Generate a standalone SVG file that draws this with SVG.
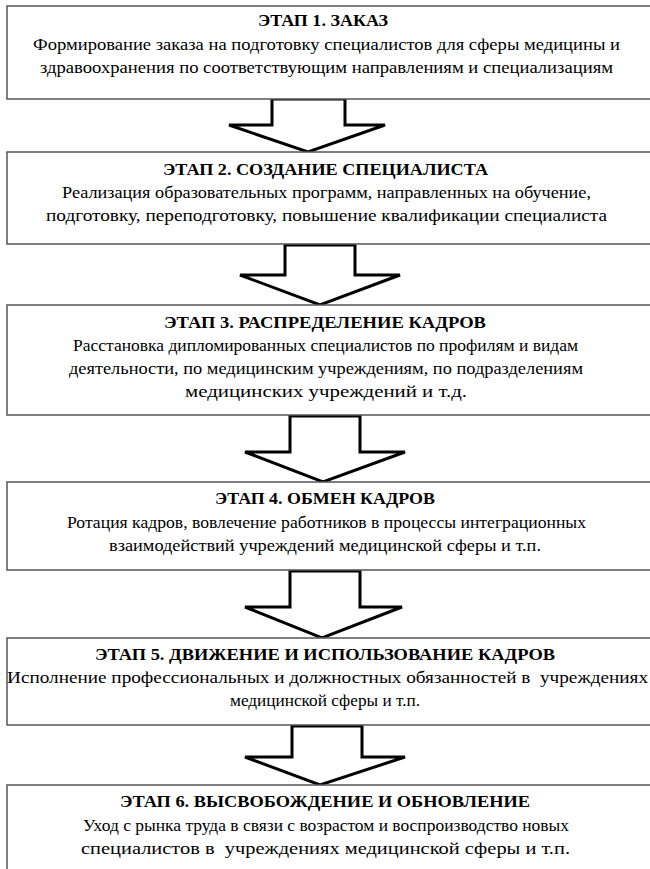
<svg xmlns="http://www.w3.org/2000/svg" width="650" height="869" viewBox="0 0 650 869">
<style>
.box{fill:#fff;stroke:#555;stroke-width:1.5}
.arr{fill:#fff;stroke:#000;stroke-width:3;stroke-linejoin:miter}
.t{font-size:17px;font-weight:bold}
.b{font-size:17px}
.pre{white-space:pre}
</style>
<rect width="650" height="869" fill="#fff"/>
<g id="connectors">
<path class="arr" d="M272,99 H345 V125 H385 L308,152 L229,125 H272 Z"/>
<path class="arr" d="M285,245 H355 V275 H400 L320,305 L240,275 H285 Z"/>
<path class="arr" d="M290,416 H360 V452 H405 L323,482 L245,452 H290 Z"/>
<path class="arr" d="M290,571 H360 V607 H402 L322,638 L245,607 H290 Z"/>
<path class="arr" d="M292,726 H362 V757 H405 L320,785 L245,757 H292 Z"/>
</g>
<g font-family="'Liberation Serif', 'Times New Roman', 'DejaVu Serif', serif" text-anchor="middle" fill="#000">
<g id="stage1">
<rect class="box" x="7" y="6" width="660" height="93"/>
<text class="t" x="323" y="26" textLength="130" lengthAdjust="spacingAndGlyphs">ЭТАП 1. ЗАКАЗ</text>
<text class="b" x="326.5" y="50" textLength="587" lengthAdjust="spacingAndGlyphs">Формирование заказа на подготовку специалистов для сферы медицины и</text>
<text class="b" x="326.5" y="73" textLength="573" lengthAdjust="spacingAndGlyphs">здравоохранения по соответствующим направлениям и специализациям</text>
</g>
<g id="stage2">
<rect class="box" x="7" y="152" width="660" height="92"/>
<text class="t" x="325.5" y="175" textLength="325" lengthAdjust="spacingAndGlyphs">ЭТАП 2. СОЗДАНИЕ СПЕЦИАЛИСТА</text>
<text class="b" x="326.5" y="198" textLength="529" lengthAdjust="spacingAndGlyphs">Реализация образовательных программ, направленных на обучение,</text>
<text class="b" x="326.5" y="221" textLength="561" lengthAdjust="spacingAndGlyphs">подготовку, переподготовку, повышение квалификации специалиста</text>
</g>
<g id="stage3">
<rect class="box" x="7" y="305" width="660" height="110"/>
<text class="t" x="325" y="328" textLength="322" lengthAdjust="spacingAndGlyphs">ЭТАП 3. РАСПРЕДЕЛЕНИЕ КАДРОВ</text>
<text class="b" x="325.5" y="351" textLength="505" lengthAdjust="spacingAndGlyphs">Расстановка дипломированных специалистов по профилям и видам</text>
<text class="b" x="326" y="374" textLength="514" lengthAdjust="spacingAndGlyphs">деятельности, по медицинским учреждениям, по подразделениям</text>
<text class="b" x="326" y="397" textLength="282" lengthAdjust="spacingAndGlyphs">медицинских учреждений и т.д.</text>
</g>
<g id="stage4">
<rect class="box" x="7" y="482" width="660" height="88"/>
<text class="t" x="325" y="504" textLength="220" lengthAdjust="spacingAndGlyphs">ЭТАП 4. ОБМЕН КАДРОВ</text>
<text class="b" x="326.5" y="528" textLength="519" lengthAdjust="spacingAndGlyphs">Ротация кадров, вовлечение работников в процессы интеграционных</text>
<text class="b" x="325" y="551" textLength="432" lengthAdjust="spacingAndGlyphs">взаимодействий учреждений медицинской сферы и т.п.</text>
</g>
<g id="stage5">
<rect class="box" x="7" y="638" width="660" height="87"/>
<text class="t" x="325" y="660" textLength="460" lengthAdjust="spacingAndGlyphs">ЭТАП 5. ДВИЖЕНИЕ И ИСПОЛЬЗОВАНИЕ КАДРОВ</text>
<text class="b pre" x="327.5" y="683" textLength="641" lengthAdjust="spacingAndGlyphs">Исполнение профессиональных и должностных обязанностей в  учреждениях</text>
<text class="b" x="325" y="706" textLength="190" lengthAdjust="spacingAndGlyphs">медицинской сферы и т.п.</text>
</g>
<g id="stage6">
<rect class="box" x="7" y="785" width="660" height="100"/>
<text class="t" x="325" y="807" textLength="410" lengthAdjust="spacingAndGlyphs">ЭТАП 6. ВЫСВОБОЖДЕНИЕ И ОБНОВЛЕНИЕ</text>
<text class="b" x="326" y="831" textLength="486" lengthAdjust="spacingAndGlyphs">Уход с рынка труда в связи с возрастом и воспроизводство новых</text>
<text class="b pre" x="325.5" y="854" textLength="489" lengthAdjust="spacingAndGlyphs">специалистов в  учреждениях медицинской сферы и т.п.</text>
</g>
</g>
</svg>
